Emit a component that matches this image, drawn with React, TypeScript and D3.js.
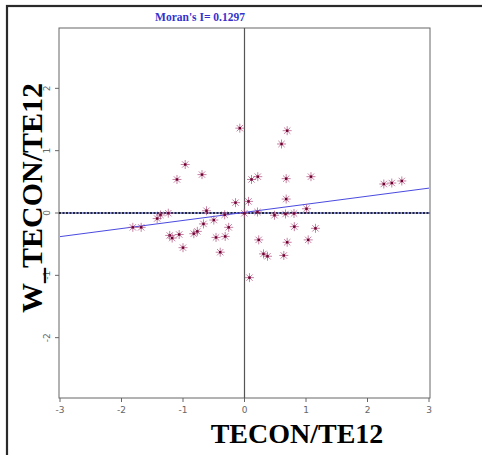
import React from "react";
import * as d3 from "d3";

const moranI = 0.1297;
const intercept = 0.01;
const xTicks = [-3, -2, -1, 0, 1, 2, 3];
const yTicks = [-2, -1, 0, 1, 2];
const zValues = [
  -0.076, 0.694, 0.602, -0.964, -0.691, -1.098, 0.114, 0.216, 0.678, 1.081,
  0.678, -0.146, 0.065, 1.008, -0.618, -1.239, -1.366, -1.42, -1.816, -1.68,
  -0.322, -0.003, 0.211, 0.488, 0.667, 0.805, -0.499, -0.667, -0.257, 0.81,
  1.154, -1.216, -1.176, -1.062, -0.824, -0.767, -0.463, -0.314, 0.231, 0.694,
  1.036, -1.0, -0.395, 0.309, 0.374, 0.639, 0.081, 2.265, 2.395, 2.558,
];
const wzValues = [
  1.361, 1.321, 1.107, 0.778, 0.616, 0.538, 0.538, 0.583, 0.551, 0.583,
  0.224, 0.166, 0.186, 0.068, 0.036, -0.003, -0.032, -0.089, -0.23, -0.23,
  -0.029, -0.005, 0.016, -0.036, -0.016, -0.008, -0.113, -0.175, -0.23, -0.219,
  -0.246, -0.36, -0.402, -0.345, -0.332, -0.295, -0.392, -0.376, -0.431, -0.47,
  -0.431, -0.556, -0.629, -0.656, -0.694, -0.681, -1.037, 0.465, 0.481, 0.514,
];

export default function App() {
  const W = 482, H = 455;
  const left = 59, right = 430, top = 28, bottom = 398;
  const x = d3.scaleLinear().domain([-3, 3]).range([left + 1, right - 1]);
  const y = d3.scaleLinear().domain([-3, 3]).range([bottom + 2, top - 2]);
  const pts = zValues.map((v, i) => [v, wzValues[i]]);
  const reg = d3.line<number>().x((d) => x(d)).y((d) => y(moranI * d + intercept));
  const serif = "'Liberation Serif', 'Times New Roman', serif";
  const sans = "'DejaVu Sans', 'Liberation Sans', sans-serif";
  const r = 4.5;
  return (
    <svg width={W} height={H} style={{ position: "absolute", left: 0, top: 0, background: "#fff" }}>
      <rect x={7} y={6} width={W} height={H} fill="#fff" stroke="#2a2a2a" strokeWidth={2.2} />
      <text x={200} y={21} textAnchor="middle" fontFamily={serif} fontWeight="bold" fontSize={11.5} fill="#3333cc">
        Moran's I= {moranI}
      </text>
      <rect x={left} y={top} width={right - left} height={bottom - top} fill="none" stroke="#666" strokeWidth={1} />
      <line x1={x(0)} x2={x(0)} y1={top} y2={bottom} stroke="#555" strokeWidth={1.2} />
      <line x1={left} x2={right} y1={y(0)} y2={y(0)} stroke="#3344cc" strokeWidth={1} />
      <line x1={left} x2={right} y1={y(0)} y2={y(0)} stroke="#000" strokeWidth={1.3} strokeDasharray="2,1.5" />
      <path d={reg([-3, 3]) || ""} stroke="#4a4ae0" strokeWidth={1} fill="none" />
      {xTicks.map((t) => (
        <g key={"x" + t}>
          <line x1={x(t)} x2={x(t)} y1={bottom} y2={bottom + 4} stroke="#666" />
          <text x={x(t)} y={413} textAnchor="middle" fontFamily={sans} fontSize={9} fill="#666">
            {t}
          </text>
        </g>
      ))}
      {yTicks.map((t) => (
        <g key={"y" + t}>
          <line x1={left - 4} x2={left} y1={y(t)} y2={y(t)} stroke="#666" />
          <text
            transform={`translate(50,${y(t)}) rotate(-90)`}
            textAnchor="middle"
            fontFamily={sans}
            fontSize={9}
            fill="#666"
          >
            {t}
          </text>
        </g>
      ))}
      {pts.map(([a, b], i) => {
        const cx = x(a), cy = y(b);
        const k = r * 0.7071;
        return (
          <g key={i} stroke="#b0507f" strokeWidth={0.9} strokeOpacity={0.8}>
            <line x1={cx - r} x2={cx + r} y1={cy} y2={cy} />
            <line x1={cx} x2={cx} y1={cy - r} y2={cy + r} />
            <line x1={cx - k} x2={cx + k} y1={cy - k} y2={cy + k} />
            <line x1={cx - k} x2={cx + k} y1={cy + k} y2={cy - k} />
            <rect x={cx - 1.2} y={cy - 1.2} width={2.4} height={2.4} fill="#700030" stroke="none" />
          </g>
        );
      })}
      <text x={297} y={443} textAnchor="middle" fontFamily={serif} fontWeight="bold" fontSize={28} fill="#000">
        TECON/TE12
      </text>
      <text
        transform="translate(42,198) rotate(-90)"
        textAnchor="middle"
        fontFamily={serif}
        fontWeight="bold"
        fontSize={30}
        fill="#000"
      >
        W_TECON/TE12
      </text>
    </svg>
  );
}
